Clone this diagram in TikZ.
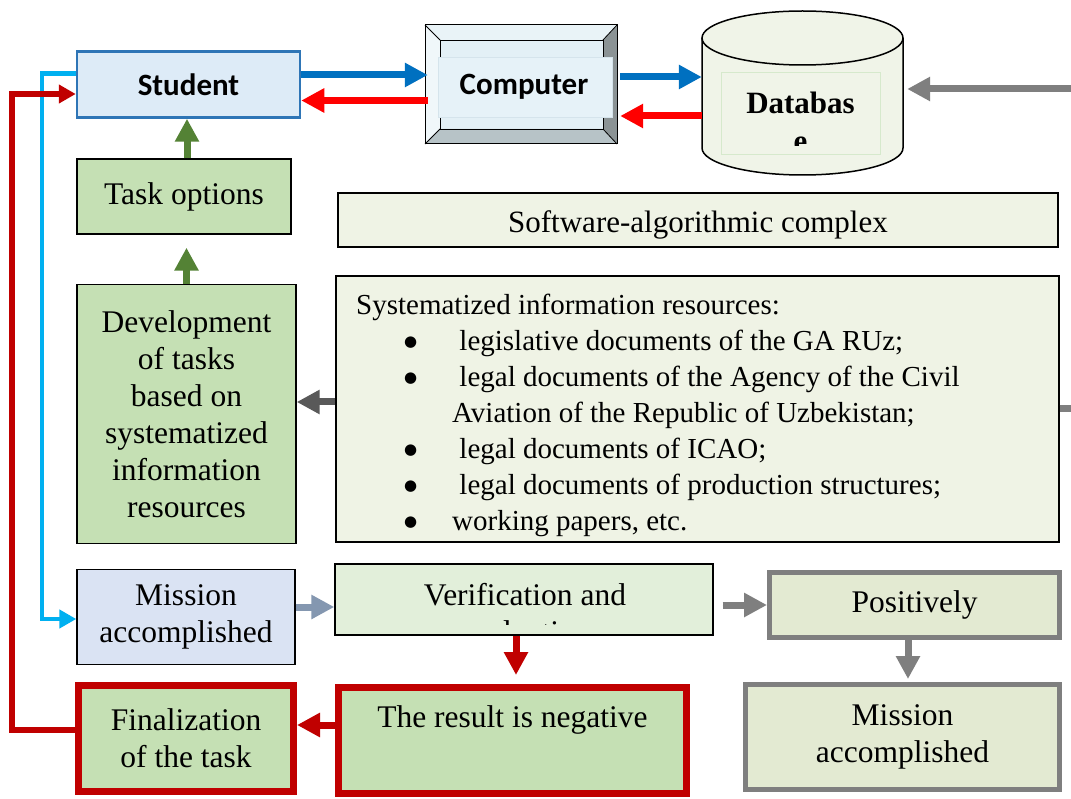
\documentclass[tikz,border=0pt]{standalone}
\usepackage{fontspec}
\setmainfont{Liberation Serif}
\newfontfamily\calibri{Carlito}
\newfontfamily\djv{DejaVu Sans}
\usetikzlibrary{arrows.meta,calc}
\definecolor{gfill}{HTML}{C5E0B4}
\definecolor{vfill}{HTML}{E2EFDA}
\definecolor{pfill}{HTML}{E3EAD2}
\definecolor{sfill}{HTML}{EFF3E5}
\definecolor{dbfill}{HTML}{F0F4E8}
\definecolor{dbline}{HTML}{D6E9CC}
\definecolor{stfill}{HTML}{DDEBF7}
\definecolor{stline}{HTML}{2E75B6}
\definecolor{mfill}{HTML}{DAE3F3}
\definecolor{arblue}{HTML}{0070C0}
\definecolor{arred}{HTML}{FF0000}
\definecolor{darkred}{HTML}{C00000}
\definecolor{argreen}{HTML}{548235}
\definecolor{argray}{HTML}{7F7F7F}
\definecolor{ardgray}{HTML}{595959}
\definecolor{arslate}{HTML}{8497B0}
\definecolor{cyanl}{HTML}{00B0F0}
\definecolor{bvtop}{HTML}{E9F3F7}
\definecolor{bvleft}{HTML}{F0F7FA}
\definecolor{bvright}{HTML}{8B9395}
\definecolor{bvbottom}{HTML}{B7C3C7}
\definecolor{bvface}{HTML}{E3F0F6}
\definecolor{bvtext}{HTML}{E6F2F8}
\definecolor{bvtextline}{HTML}{D5E4EC}
\newcommand\fA{\fontsize{31.5}{37}\selectfont}
\newcommand\fB{\fontsize{29}{36}\selectfont}
\newcommand\fC{\calibri\bfseries\fontsize{31}{37}\selectfont}
\newcommand\fD{\bfseries\fontsize{31}{38}\selectfont}
\newcommand\fS{\fontsize{31}{37}\selectfont}
\newcommand\blt{\hspace*{48pt}\makebox[48pt][l]{\raisebox{4.5pt}{\djv\fontsize{15}{15}\selectfont ●}}}
\begin{document}
\begin{tikzpicture}[x=1pt,y=-1pt,
  box/.style={draw=black, line width=1.4pt, align=center, font=\fA, inner sep=0pt},
  gbox/.style={box, fill=gfill},
  rbox/.style={box, draw=darkred, line width=7pt, fill=gfill},
  pbox/.style={box, draw=argray, line width=5pt, fill=pfill},
  fat/.style={line width=7pt, -{Triangle[length=23pt,width=23pt]}},
  bluearr/.style={fat, draw=arblue, fill=arblue},
  redarr/.style={fat, draw=arred, fill=arred},
  dredarr/.style={fat, draw=darkred, fill=darkred},
  greenarr/.style={fat, draw=argreen, fill=argreen},
  grayarr/.style={fat, draw=argray, fill=argray},
  dgrayarr/.style={fat, draw=ardgray, fill=ardgray},
  slatearr/.style={fat, draw=arslate, fill=arslate},
  cyanarr/.style={line width=4.5pt, draw=cyanl, -{Triangle[length=17pt,width=18pt]}},
  redpath/.style={line width=6pt, draw=darkred, -{Triangle[length=17pt,width=18pt]}}
]
\useasboundingbox (0,0) rectangle (1071,799);
\fill[white] (0,0) rectangle (1071,799);

% Student
\node[box, draw=stline, line width=2.5pt, fill=stfill, font=\fC, minimum width=223pt, minimum height=66pt] (student) at (188.5,84.5) {Student};

% Computer (bevel)
\fill[bvface] (440,40) rectangle (603,129);
\fill[bvtop] (425,25) -- (617,25) -- (603,40) -- (440,40) -- cycle;
\fill[bvleft] (425,25) -- (440,40) -- (440,129) -- (425,144) -- cycle;
\fill[bvright] (617,25) -- (617,144) -- (603,129) -- (603,40) -- cycle;
\fill[bvbottom] (425,144) -- (617,144) -- (603,129) -- (440,129) -- cycle;
\draw[line width=0.8pt] (425,25) -- (440,40) (617,25) -- (603,40) (617,144) -- (603,129) (425,144) -- (440,129);
\draw[line width=0.8pt] (440,40) rectangle (603,129);
\draw[line width=1pt] (425,25) rectangle (617,144);
\draw[bvtextline, fill=bvtext, line width=0.6pt] (438,57) rectangle (612,117);
\node[font=\fC, minimum width=192pt, minimum height=119pt, inner sep=0pt, text height=24pt, text depth=4pt] (computer) at (524,84.5) {Computer};

% Database cylinder
\fill[dbfill] (702,38) -- (702,148) arc[start angle=180,end angle=360,x radius=100.5pt,y radius=27pt] -- (903,38) arc[start angle=0,end angle=180,x radius=100.5pt,y radius=27pt] -- cycle;
\draw[line width=1.5pt] (702,38) -- (702,148) arc[start angle=180,end angle=360,x radius=100.5pt,y radius=27pt] -- (903,38);
\draw[line width=1.5pt] (802.5,38) ellipse[x radius=100.5pt, y radius=27pt];
\node[minimum width=201pt, minimum height=163pt, inner sep=0pt] (db) at (802.5,93.5) {};
\draw[dbline, line width=1pt] (721,73) rectangle (880,155);
\begin{scope}
\clip (721,73) rectangle (880,146);
\node[font=\fD, align=center, anchor=north, inner sep=0pt] (dbtext) at (800.5,92) {Databas\\e};
\end{scope}

% Left column
\node[gbox, minimum width=214pt, minimum height=75pt] (taskopt) at (184,196.5) {Task options};
\node[gbox, minimum width=219pt, minimum height=259pt] (dev) at (186.5,414) {Development\\of tasks\\based on\\systematized\\information\\resources};
\node[box, fill=mfill, minimum width=218pt, minimum height=95pt] (mission) at (186,617) {Mission\\accomplished};
\node[rbox, minimum width=215pt, minimum height=106pt] (fin) at (186,738.5) {Finalization\\of the task};

% Right boxes
\node[box, fill=sfill, font=\fS, minimum width=720pt, minimum height=54pt, text height=33pt, text depth=7pt] (soft) at (698,220) {Software-algorithmic complex};
\node[box, fill=sfill, minimum width=723pt, minimum height=266pt] (sys) at (697.5,409) {};
\node[font=\fB, align=left, anchor=north west, inner sep=0pt] (systext) at (356,294) {Systematized information resources:\\
\blt\ legislative documents of the GA RUz;\\
\blt\ legal documents of the Agency of the Civil\\
\hspace*{96pt}Aviation of the Republic of Uzbekistan;\\
\blt\ legal documents of ICAO;\\
\blt\ legal documents of production structures;\\
\blt working papers, etc.};

% Verification
\node[box, fill=vfill, minimum width=378pt, minimum height=71pt] (verif) at (524,599.5) {};
\begin{scope}
\clip (336,565) rectangle (712,624);
\node[font=\fA, align=center, anchor=north, inner sep=0pt] (veriftext) at (525,583.5) {Verification and\\evaluation};
\end{scope}

\node[rbox, minimum width=348pt, minimum height=106pt, text height=21.5pt, text depth=48pt] (neg) at (512.5,740.5) {The result is negative};
\node[pbox, minimum width=290pt, minimum height=65pt] (pos) at (914.5,605) {Positively};
\node[pbox, minimum width=314pt, minimum height=105pt] (m2) at (902.5,737) {Mission\\accomplished};

% Coordinates
\coordinate (b1) at ([yshift=9.5pt]student.east);
\coordinate (b2) at ([yshift=-16pt]computer.west);
\coordinate (b3) at ([yshift=7.5pt]computer.east);
\coordinate (b4) at ([yshift=-22.5pt]db.west);
\coordinate (dbin) at (1071,89);
\coordinate (g1) at ([xshift=3pt]taskopt.north);
\coordinate (g3) at ([yshift=-13pt]taskopt.south);
\coordinate (s1) at ([yshift=7pt]sys.west);
\coordinate (se) at (1071,409);
\coordinate (m1) at ([yshift=10pt]mission.east);
\coordinate (v1) at ([xshift=-8pt]verif.south);
\coordinate (n1) at ([yshift=15.5pt]neg.west);
\coordinate (p1) at ($(verif.east |- pos.west)+(9,0)$);
\coordinate (q1) at ([xshift=-6.5pt]pos.south);
\coordinate (cx) at (42,0);
\coordinate (rx) at (12,0);
\coordinate (c1) at ([yshift=11pt]student.west);
\coordinate (c2) at ([yshift=-2pt]mission.west);
\coordinate (r1) at ([yshift=8.5pt]fin.west);
\coordinate (r2) at ([yshift=-9.5pt]student.west);

% Connectors
\draw[bluearr] (b1) -- (b1 -| computer.west);
\draw[redarr] (b2) -- (b2 -| student.east);
\draw[bluearr] (b3) -- (b3 -| db.west);
\draw[redarr] (b4) -- (b4 -| computer.east);
\draw[grayarr] (dbin) -- ($(dbin -| db.east)+(4,0)$);
\draw[greenarr] (g1) -- (g1 |- student.south);
\draw[greenarr] (dev.north) -- (dev.north |- g3);
\draw[dgrayarr] (s1) -- (s1 -| dev.east);
\draw[argray, line width=7pt] (sys.east) -- (se);
\draw[slatearr] (m1) -- (m1 -| verif.west);
\draw[dredarr] (v1) -- ($(v1 |- neg.north)+(0,-9)$);
\draw[dredarr] (n1) -- (n1 -| fin.east);
\draw[grayarr] (p1) -- (pos.west);
\draw[grayarr] (q1) -- ($(q1 |- m2.north)+(0,-3)$);
\draw[cyanarr] (c1) -- (c1 -| cx) |- (c2);
\draw[redpath] (r1) -- (r1 -| rx) |- (r2);
\end{tikzpicture}
\end{document}
